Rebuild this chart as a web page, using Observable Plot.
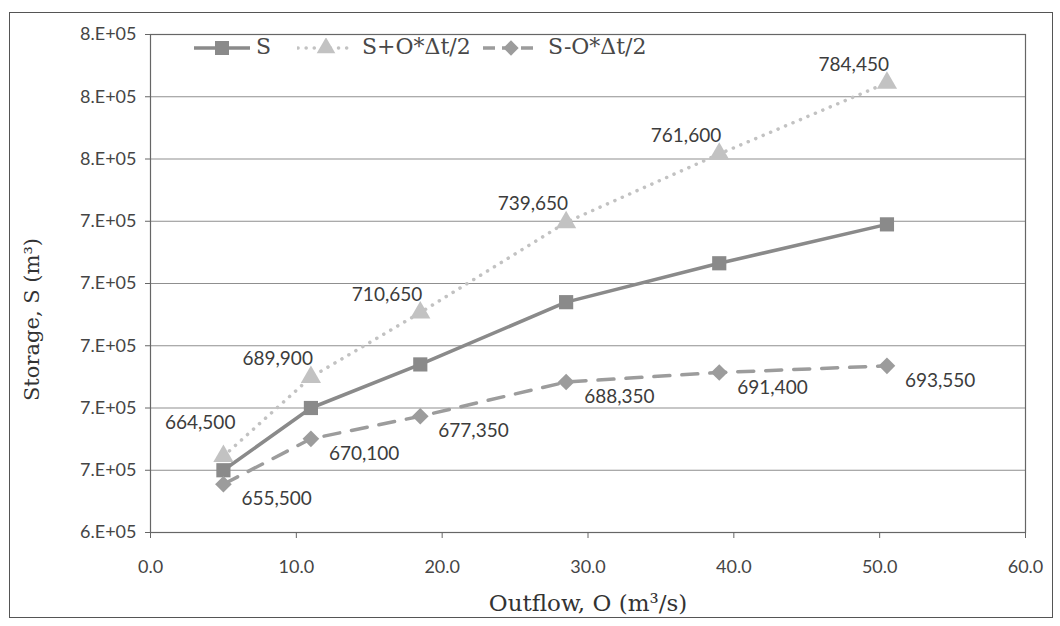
<!DOCTYPE html>
<html>
<head>
<meta charset="utf-8">
<script src="https://cdn.jsdelivr.net/npm/d3@7"></script>
<script src="https://cdn.jsdelivr.net/npm/@observablehq/plot@0.6"></script>
<style>
  body { margin: 0; background: #fff; }
  #wrap { position: relative; width: 1060px; height: 626px; overflow: hidden; }
  #border { position: absolute; left: 9px; top: 12px; width: 1044px; height: 606px; border: 1.5px solid #555; box-sizing: border-box; pointer-events: none; }
  .lg { position: absolute; font-family: "DejaVu Serif", serif; font-size: 22px; color: #484848; line-height: 1; }
  .sw { position: absolute; }
</style>
</head>
<body>
<div id="wrap"><div id="border"></div></div>
<script>
// ---- data ----
const outflow = [5, 11, 18.5, 28.5, 39, 50.5];
const storage = [660000, 680000, 694000, 714000, 726500, 739000];
const storagePlus = [664500, 689900, 710650, 739650, 761600, 784450];
const storageMinus = [655500, 670100, 677350, 688350, 691400, 693550];
const seriesNames = ["S", "S+O*\u0394t/2", "S-O*\u0394t/2"];
const yTicks = [640000, 660000, 680000, 700000, 720000, 740000, 760000, 780000, 800000];
const yTickLabels = ["6.E+05", "7.E+05", "7.E+05", "7.E+05", "7.E+05", "7.E+05", "8.E+05", "8.E+05", "8.E+05"];
const xTicks = [0, 10, 20, 30, 40, 50, 60];
const xTickLabels = ["0.0", "10.0", "20.0", "30.0", "40.0", "50.0", "60.0"];
const xTitle = "Outflow, O (m\u00b3/s)";
const yTitle = "Storage, S (m\u00b3)";

// ---- table ----
const data = outflow.map((o, i) => ({O: o, S: storage[i], Sp: storagePlus[i], Sm: storageMinus[i]}));
const fmt = d3.format(",");

const cS = "#8a8a8a", cP = "#c2c2c2", cM = "#9c9c9c";
const labelFont = "Lato, sans-serif";
const serif = "'DejaVu Serif', serif";

const chart = Plot.plot({
  width: 1060,
  height: 626,
  marginLeft: 150,
  marginRight: 35,
  marginTop: 34,
  marginBottom: 94,
  style: {fontFamily: labelFont, fontSize: "18px", color: "#454545", background: "transparent"},
  x: {domain: [0, 60]},
  y: {domain: [640000, 800000]},
  marks: [
    Plot.ruleY(yTicks, {stroke: "#8f8f8f", strokeWidth: 1}),
    Plot.frame({stroke: "#666", strokeWidth: 1.2}),
    Plot.axisY({ticks: yTicks, tickFormat: d => yTickLabels[yTicks.indexOf(d)], tickSize: 5, tickPadding: 9, label: null, stroke: "#666"}),
    Plot.axisX({ticks: xTicks, tickFormat: d => xTickLabels[xTicks.indexOf(d)], tickSize: 6, tickPadding: 22, label: null, stroke: "#666"}),
    Plot.line(data, {x: "O", y: "Sp", stroke: cP, strokeWidth: 3.5, strokeDasharray: "0.1,8", strokeLinecap: "round"}),
    Plot.line(data, {x: "O", y: "Sm", stroke: cM, strokeWidth: 3.5, strokeDasharray: "16,12"}),
    Plot.line(data, {x: "O", y: "S", stroke: cS, strokeWidth: 3.5}),
    Plot.dot(data, {x: "O", y: "Sp", symbol: "triangle", r: 7.5, fill: cP}),
    Plot.dot(data, {x: "O", y: "S", symbol: "square", r: 8, fill: cS}),
    Plot.dot(data, {x: "O", y: "Sm", symbol: "diamond2", r: 7.5, fill: cM}),
    Plot.text(data.slice(1), {x: "O", y: "Sp", text: d => fmt(d.Sp), textAnchor: "end", dx: 2, dy: -18, fontSize: 19, fill: "#3c3c3c"}),
    Plot.text(data.slice(0, 1), {x: "O", y: "Sp", text: d => fmt(d.Sp), textAnchor: "end", dx: 12, dy: -33, fontSize: 19, fill: "#3c3c3c"}),
    Plot.text(data, {x: "O", y: "Sm", text: d => fmt(d.Sm), textAnchor: "start", dx: 18, dy: 15, fontSize: 19, fill: "#3c3c3c"}),
    Plot.text([xTitle], {text: d => d, frameAnchor: "bottom", textAnchor: "middle", lineAnchor: "middle", dy: 71, fontFamily: serif, fontSize: 23, fill: "#333"}),
    Plot.text([yTitle], {text: d => d, frameAnchor: "left", textAnchor: "middle", lineAnchor: "middle", rotate: -90, dx: -118, dy: 36, fontFamily: serif, fontSize: 21, fill: "#333"})
  ]
});
const wrap = document.getElementById("wrap");
wrap.insertBefore(chart, wrap.firstChild);

// ---- legend (inside plot, top-left) ----
const legendItems = [
  {name: seriesNames[0], color: cS, dash: null, cap: "butt", sym: d3.symbolSquare, size: 196, sx: 193, tx: 256},
  {name: seriesNames[1], color: cP, dash: "0.1,8", cap: "round", sym: d3.symbolTriangle, size: 150, sx: 297, tx: 362},
  {name: seriesNames[2], color: cM, dash: "12,7", cap: "butt", sym: d3.symbolDiamond2, size: 150, sx: 482, tx: 548}
];
const cy = 48;
for (const it of legendItems) {
  const s = d3.create("svg").attr("class", "sw").attr("width", 58).attr("height", 20)
    .style("left", it.sx + "px").style("top", (cy - 10) + "px");
  s.append("line").attr("x1", 1).attr("x2", 57).attr("y1", 10).attr("y2", 10)
    .attr("stroke", it.color).attr("stroke-width", 3.5).attr("stroke-linecap", it.cap)
    .attr("stroke-dasharray", it.dash);
  s.append("path").attr("d", d3.symbol(it.sym, it.size)()).attr("transform", "translate(29,10)").attr("fill", it.color);
  wrap.appendChild(s.node());
  const t = document.createElement("div");
  t.className = "lg";
  t.textContent = it.name;
  t.style.left = it.tx + "px";
  t.style.top = (cy - 12) + "px";
  wrap.appendChild(t);
}
</script>
</body>
</html>
